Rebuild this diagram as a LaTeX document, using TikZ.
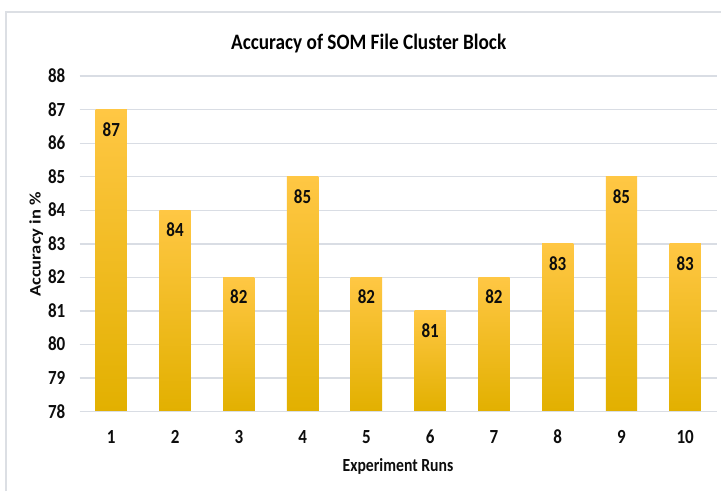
\documentclass[tikz,border=0pt]{standalone}
\usepackage{fontspec}
\setmainfont{Carlito}
\usepackage{graphicx}
\definecolor{gridc}{HTML}{D9DDE4}
\definecolor{framec}{HTML}{DCDFE4}
\definecolor{bartop}{HTML}{FFC744}
\definecolor{barmid}{HTML}{FFC200}
\definecolor{barbot}{HTML}{E2B000}
\definecolor{txt}{HTML}{0D0D0D}
% condensed text, as the chart sets it
\newcommand{\sq}[1]{\scalebox{0.85}[1]{#1}}
\newcommand{\sqt}[1]{\scalebox{0.875}[1]{#1}}
\newcommand{\sqv}[1]{\scalebox{1}[0.865]{#1}}
\tikzset{
  gridline/.style={gridc, line width=1.3pt},
  barshade/.style={top color=bartop, middle color=barmid, bottom color=barbot},
  ticklbl/.style={inner sep=0pt, text=txt, font=\fontsize{20}{20}\selectfont\bfseries},
  axtitle/.style={inner sep=0pt, text=txt, font=\fontsize{18.5}{18.5}\selectfont\bfseries},
  charttitle/.style={inner sep=0pt, text=black, font=\fontsize{22}{22}\selectfont\bfseries}
}
\begin{document}
\begin{tikzpicture}[x=1pt,y=-1pt]
\useasboundingbox (0,0) rectangle (721,491);
\fill[white] (0,0) rectangle (721,491);
% chart frame (left and top edges)
\draw[framec, line width=1.3pt] (6,491) -- (6,12) -- (721,12);
% title
\node[charttitle, anchor=base] (title) at (368.7,49.3) {\sqt{Accuracy of SOM File Cluster Block}};
% horizontal gridlines and value axis labels
\foreach \v in {79,...,88}{
  \pgfmathsetmacro\gy{411.6-(\v-78)*33.55}
  \draw[gridline] (79.5,\gy) -- (716.7,\gy);
}
\foreach \v in {78,...,88}{
  \pgfmathsetmacro\gy{411.6-(\v-78)*33.55}
  \node[ticklbl, anchor=base east] (ytick\v) at (65.5,\gy+6.4) {\sq{\v}};
}
% bars with value labels and category labels
\foreach \i/\v in {1/87,2/84,3/82,4/85,5/82,6/81,7/82,8/83,9/85,10/83}{
  \pgfmathsetmacro\cx{111.3+(\i-1)*63.77}
  \pgfmathsetmacro\ty{411.6-(\v-78)*33.55}
  \shade[barshade] (\cx-15.65,\ty) rectangle (\cx+15.65,411.6);
  \node[ticklbl, anchor=base] (val\i) at (\cx,\ty+26.5) {\sq{\v}};
  \node[ticklbl, anchor=base] (run\i) at (\cx,443.5) {\sq{\i}};
}
% category axis line
\draw[gridline] (79.5,411.6) -- (716.7,411.6);
% axis titles
\node[axtitle, anchor=base] (xtitle) at (398,471) {\sq{Experiment Runs}};
\node[axtitle, anchor=base, rotate=90] (ytitle) at (40.5,244.5) {\sqv{Accuracy in \%}};
\end{tikzpicture}
\end{document}
